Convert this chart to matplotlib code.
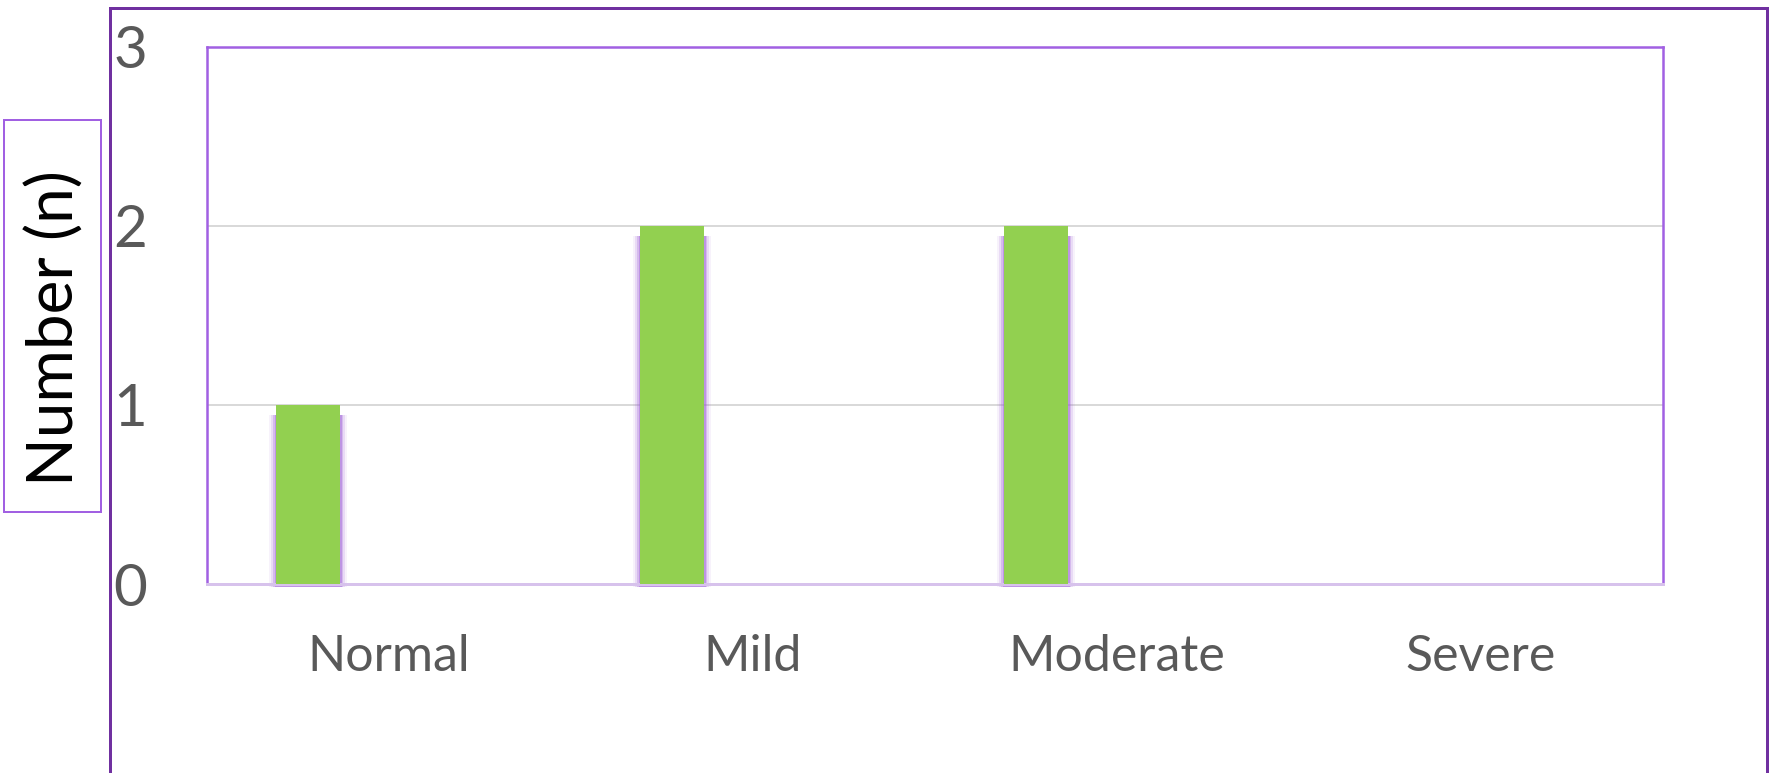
"""
Gráfico de barras: número de casos por severidad.
Salida: out.png (1771x773)
"""

import matplotlib.pyplot as plt
from matplotlib.patches import Rectangle

# datos
CATEGORIAS = ["Normal", "Mild", "Moderate", "Severe"]
VALORES = [1, 2, 2, 0]
Y_TICKS = [0, 1, 2, 3]
Y_LABEL = "Number (n)"

VERDE = "#92D050"
MORADO_OSCURO = "#7030A0"
MORADO = "#A160E2"
LAVANDA = "#D7C2EC"
GRIS_TEXTO = "#595959"
GRIS_GRILLA = "#D9D9D9"

DPI = 100
W, H = 1771, 773

# ancho de barra y posición del borde izquierdo respecto del centro de categoría
ANCHO_BARRA = 0.176
OFFSET_BARRA = -0.31


def px(n):
    """píxeles -> puntos"""
    return n * 72 / DPI


def dibujar_sombra(ax, x0, alto):
    # resplandor morado alrededor de la barra (capas semitransparentes)
    por_px = 1 / 364  # unidades de datos por píxel en x
    por_py = 1 / 179  # unidades de datos por píxel en y
    for exp, alpha in [(7, 0.08), (5, 0.15), (3, 0.25), (1.5, 0.4)]:
        dx = exp * por_px
        top = alto - 10 * por_py
        bot = -3 * por_py
        ax.add_patch(Rectangle((x0 - dx, bot), ANCHO_BARRA + 2 * dx, top - bot,
                               facecolor="#9B5BD6", edgecolor="none",
                               alpha=alpha, zorder=2, clip_on=False))


def main():
    plt.rcParams["font.family"] = ["Lato", "DejaVu Sans"]

    fig = plt.figure(figsize=(W / DPI, H / DPI), dpi=DPI)
    ax = fig.add_axes([207 / W, 1 - 584 / H, (1663 - 207) / W, (584 - 47) / H])

    x = list(range(len(CATEGORIAS)))
    xs = [i + OFFSET_BARRA for i in x]

    for xi, v in zip(xs, VALORES):
        if v > 0:
            dibujar_sombra(ax, xi, v)
    ax.bar(xs, VALORES, width=ANCHO_BARRA, align="edge", color=VERDE,
           zorder=3)

    ax.set_xlim(-0.5, len(CATEGORIAS) - 0.5)
    ax.set_ylim(0, 3)

    ax.set_xticks(x)
    ax.set_xticklabels(CATEGORIAS, fontsize=36, color=GRIS_TEXTO)
    ax.set_yticks(Y_TICKS)
    ax.set_yticklabels([str(t) for t in Y_TICKS], fontsize=42, color=GRIS_TEXTO)
    ax.tick_params(axis="both", length=0)
    ax.tick_params(axis="y", pad=px(60))
    ax.tick_params(axis="x", pad=px(50))

    ax.grid(axis="y", color=GRIS_GRILLA, linewidth=px(2), zorder=0)
    ax.set_axisbelow(True)

    for lado in ["left", "right", "top"]:
        ax.spines[lado].set_color(MORADO)
        ax.spines[lado].set_linewidth(px(2.5))
    ax.spines["bottom"].set_color(LAVANDA)
    ax.spines["bottom"].set_linewidth(px(3))

    # marco exterior (se corta por abajo)
    fig.patches.append(Rectangle((110 / W, -0.1), (1767 - 110) / W, 1.1 - 8 / H,
                                 transform=fig.transFigure, fill=False,
                                 edgecolor=MORADO_OSCURO, linewidth=px(3)))

    # caja del título del eje y
    fig.patches.append(Rectangle((4 / W, 1 - 512 / H), (101 - 4) / W,
                                 (512 - 120) / H, transform=fig.transFigure,
                                 fill=False, edgecolor=MORADO, linewidth=px(2)))
    fig.text(55 / W, 1 - 328 / H, Y_LABEL, rotation=90, fontsize=46,
             color="black", ha="center", va="center")

    fig.savefig("out.png", dpi=DPI)
    plt.close(fig)


if __name__ == "__main__":
    main()
